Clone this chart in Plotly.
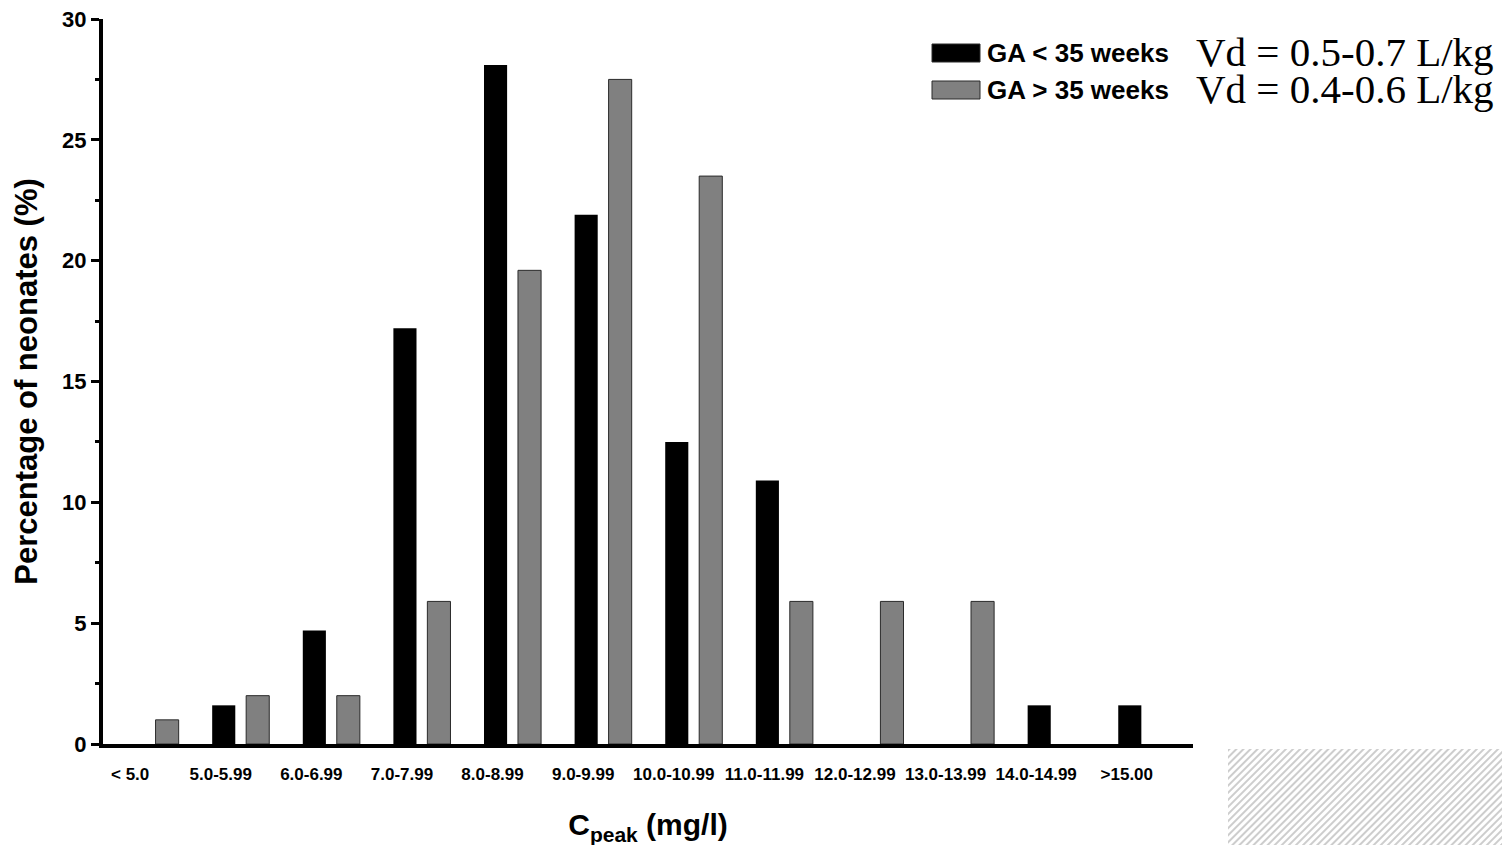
import base64
import plotly.graph_objects as go

categories = ["< 5.0", "5.0-5.99", "6.0-6.99", "7.0-7.99", "8.0-8.99", "9.0-9.99",
              "10.0-10.99", "11.0-11.99", "12.0-12.99", "13.0-13.99", "14.0-14.99", ">15.00"]
ga_lt35 = [0, 1.6, 4.7, 17.2, 28.1, 21.9, 12.5, 10.9, 0, 0, 1.6, 1.6]
ga_gt35 = [1.0, 2.0, 2.0, 5.9, 19.6, 27.5, 23.5, 5.9, 5.9, 5.9, 0, 0]
series_names = ["GA < 35 weeks", "GA > 35 weeks"]
vd_labels = ["Vd = 0.5-0.7 L/kg", "Vd = 0.4-0.6 L/kg"]
y_ticks = [0, 5, 10, 15, 20, 25, 30]

W, H = 1510, 845
OFF = 8  # page body margin offset
# plot area in screen pixels: x 103..1193, y 19..744
L = 103 - OFF
T = 19 - OFF
R = W - (1193 - OFF)
B = H - (744 - OFF)
PW, PH = W - L - R, H - T - B


def px_x(px):
    return (px - OFF - L) / PW


def px_y(py):
    return (H - B - (py - OFF)) / PH


fig = go.Figure()
fig.add_trace(go.Bar(x=categories, y=ga_lt35, name=series_names[0],
                     marker=dict(color="black", line=dict(width=0)),
                     showlegend=False))
fig.add_trace(go.Bar(x=categories, y=ga_gt35, name=series_names[1],
                     marker=dict(color="#808080",
                                 line=dict(color="#2a2a2a", width=[1 if v > 0 else 0 for v in ga_gt35])),
                     showlegend=False))

fig.update_layout(
    width=W, height=H,
    margin=dict(l=L, r=R, t=T, b=B, autoexpand=False),
    paper_bgcolor="white", plot_bgcolor="white",
    barmode="group", bargap=0.25, bargroupgap=0.32,
    font=dict(family="Liberation Sans, Arial, sans-serif", color="black"),
    xaxis=dict(
        range=[-0.52, 11.51], showgrid=False, zeroline=False, automargin=False,
        showline=True, linecolor="black", linewidth=4,
        ticks="", tickfont=dict(size=17, family="Liberation Sans, Arial", weight="bold"),
        ticklabelshift=-20, ticklabelstandoff=12, ticklabeloverflow="allow",
        title=dict(text="C<sub>peak</sub> (mg/l)",
                   font=dict(size=30, family="Liberation Sans, Arial", weight="bold"),
                   standoff=32),
    ),
    yaxis=dict(
        range=[0, 30], showgrid=False, zeroline=False, automargin=False,
        showline=True, linecolor="black", linewidth=4,
        tickvals=y_ticks, ticks="outside", ticklen=8, tickwidth=3, tickcolor="black",
        tickfont=dict(size=22, family="Liberation Sans, Arial", weight="bold"),
        ticklabeloverflow="allow",
        minor=dict(dtick=2.5, ticks="outside", ticklen=4, tickwidth=3, tickcolor="black", showgrid=False),
        title=dict(text="Percentage of neonates (%)",
                   font=dict(size=31, family="Liberation Sans, Arial", weight="bold"),
                   standoff=16),
    ),
)

# hatched decoration bottom-right
hx0, hy0, hx1, hy1 = 1228, 749, 1510, 845
svg = ("<svg xmlns='http://www.w3.org/2000/svg' width='%d' height='%d'>"
       "<defs><pattern id='p' width='5' height='5' patternUnits='userSpaceOnUse' "
       "patternTransform='rotate(45)'><rect width='2' height='5' fill='#cdcdcd'/></pattern></defs>"
       "<rect width='%d' height='%d' fill='white'/><rect width='%d' height='%d' fill='url(#p)'/></svg>"
       % (hx1 - hx0, hy1 - hy0, hx1 - hx0, hy1 - hy0, hx1 - hx0, hy1 - hy0))
src = "data:image/svg+xml;base64," + base64.b64encode(svg.encode()).decode()
fig.add_layout_image(source=src, xref="paper", yref="paper",
                     x=px_x(hx0), y=px_y(hy0), sizex=(hx1 - hx0) / PW, sizey=(hy1 - hy0) / PH,
                     xanchor="left", yanchor="top", sizing="stretch", layer="above")

# manual legend (boxes + labels) and Vd annotations
legend_colors = ["black", "#808080"]
legend_y = [53, 90]
for name, col, yc, vd in zip(series_names, legend_colors, legend_y, vd_labels):
    fig.add_shape(type="rect", xref="paper", yref="paper",
                  x0=px_x(932), x1=px_x(980), y0=px_y(yc + 9), y1=px_y(yc - 9),
                  fillcolor=col, line=dict(color="#2a2a2a", width=1))
    fig.add_annotation(xref="paper", yref="paper",
                       x=px_x(985), y=px_y(yc),
                       xanchor="left", yanchor="middle", showarrow=False, text=name,
                       font=dict(size=26, family="Liberation Sans, Arial", weight="bold", color="black"))
    fig.add_annotation(xref="paper", yref="paper",
                       x=px_x(1194), y=px_y(yc - 1),
                       xanchor="left", yanchor="middle", showarrow=False, text=vd,
                       font=dict(size=41, family="Liberation Serif, DejaVu Serif, serif", color="black"))

fig.write_html("out.html")
